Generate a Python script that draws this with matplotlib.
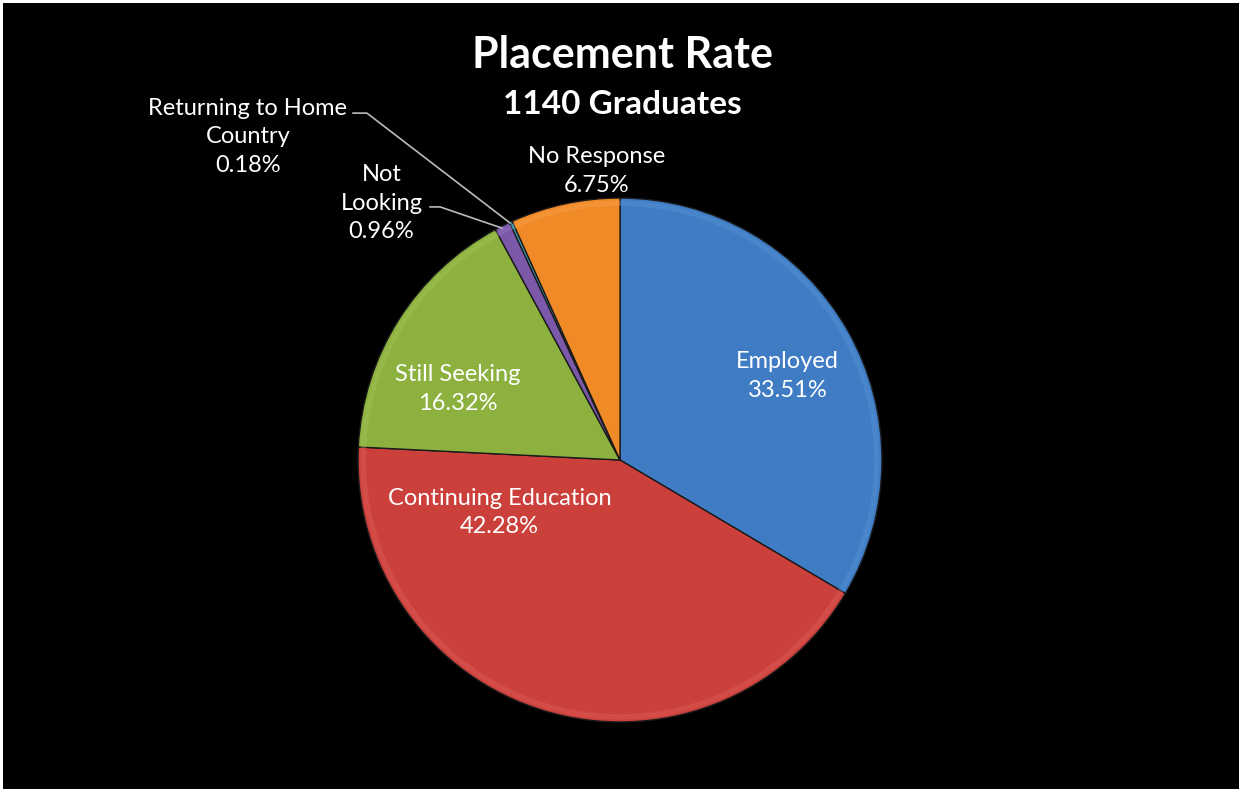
import matplotlib.pyplot as plt
from matplotlib.patches import Rectangle

categories = ['Employed', 'Continuing Education', 'Still Seeking', 'Not Looking',
              'Returning to Home Country', 'No Response']
shares = [33.51, 42.28, 16.32, 0.96, 0.18, 6.75]
colors = ['#3f7cc4', '#cc403c', '#8cb13f', '#7b58a8', '#3aa0b8', '#f08a26']
rim_colors = ['#5a95d8', '#e0605a', '#a3c55a', '#9475bf', '#5ab8cf', '#f8a24c']

# label texts and where they sit (data coords of a unit pie)
label_text = ['Employed\n33.51%', 'Continuing Education\n42.28%', 'Still Seeking\n16.32%',
              'Not\nLooking\n0.96%', 'Returning to Home\nCountry\n0.18%', 'No Response\n6.75%']
label_pos = [(0.64, 0.32), (-0.46, -0.20), (-0.62, 0.27), (-0.91, 0.98), (-1.42, 1.233), (-0.09, 1.103)]

W, H = 1241, 793
cx, cy, r = 620, 460, 262

plt.rcParams['font.family'] = ['Lato', 'DejaVu Sans']
fig = plt.figure(figsize=(W / 100, H / 100), dpi=100)
fig.patch.set_facecolor('white')
fig.patches.append(Rectangle((3 / W, 4 / H), (W - 5) / W, (H - 7) / H,
                             transform=fig.transFigure, facecolor='black',
                             edgecolor='none', zorder=-5))

ax = fig.add_axes([(cx - r) / W, (H - cy - r) / H, 2 * r / W, 2 * r / H])
ax.set_zorder(2)

wedges, _ = ax.pie(shares, colors=colors, startangle=90, counterclock=False,
                   radius=1, wedgeprops=dict(edgecolor='#1a1a1a', linewidth=1))
# soft lighter rim, a bit like the bevel in the original
ax.pie(shares, colors=rim_colors, startangle=90, counterclock=False, radius=0.99,
       wedgeprops=dict(width=0.02, edgecolor='none', alpha=0.4))

ax.set_xlim(-1, 1)
ax.set_ylim(-1, 1)
ax.set_aspect('equal')
ax.axis('off')

for txt, (x, y) in zip(label_text, label_pos):
    ax.text(x, y, txt, ha='center', va='center', color='white', fontsize=17,
            linespacing=1.45, clip_on=False)

# leader lines for the small slices
ax.plot([-0.725, -0.687, -0.45], [0.966, 0.966, 0.885], color='#bbbbbb', lw=1.2, clip_on=False)
ax.plot([-1.019, -0.966, -0.42], [1.324, 1.324, 0.905], color='#bbbbbb', lw=1.2, clip_on=False)

fig.text(622 / W, 1 - 55 / H, 'Placement Rate', ha='center', va='center',
         color='white', fontsize=31, fontweight='bold', zorder=3)
fig.text(622 / W, 1 - 105 / H, '1140 Graduates', ha='center', va='center',
         color='white', fontsize=24, fontweight='bold', zorder=3)

plt.savefig('out.png', dpi=100, facecolor=fig.get_facecolor())
